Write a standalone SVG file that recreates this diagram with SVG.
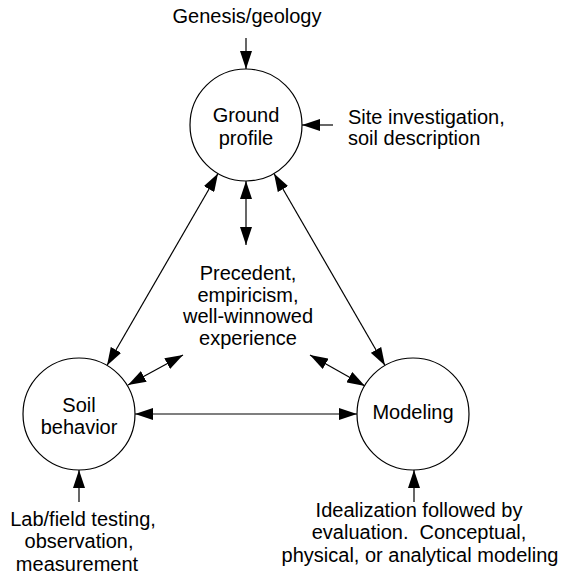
<svg xmlns="http://www.w3.org/2000/svg" width="563" height="581" viewBox="0 0 563 581">
  <style>
    text { font-family: "Liberation Sans", Arial, sans-serif; font-size: 20px; fill: #000; }
    .c { text-anchor: middle; }
    .pre { white-space: pre; }
    .node circle { fill: #fff; stroke: #000; stroke-width: 1.2; }
    #connectors line { stroke: #000; stroke-width: 1.2; fill: none; }
    .one { marker-end: url(#head); }
    .two { marker-start: url(#head); marker-end: url(#head); }
  </style>
  <defs>
    <marker id="head" markerUnits="userSpaceOnUse" markerWidth="18" markerHeight="12" refX="18" refY="6" orient="auto-start-reverse">
      <path d="M0,0 L18,6 L0,12 z" fill="#000"/>
    </marker>
  </defs>
  <rect width="563" height="581" fill="#fff"/>

  <!-- connectors -->
  <g id="connectors">
    <line class="one" x1="246" y1="38" x2="246" y2="69"/>
    <line class="one" x1="333" y1="125" x2="302" y2="125"/>
    <line class="two" x1="246" y1="181" x2="246" y2="245"/>
    <line class="two" x1="107" y1="365.5" x2="218" y2="173.5"/>
    <line class="two" x1="274" y1="173.5" x2="385" y2="365.5"/>
    <line class="two" x1="135" y1="414" x2="357" y2="414"/>
    <line class="two" x1="128" y1="385" x2="183" y2="355"/>
    <line class="two" x1="310" y1="355" x2="365" y2="386"/>
    <line class="one" x1="79" y1="502" x2="79" y2="470"/>
    <line class="one" x1="414" y1="502" x2="414" y2="470"/>
  </g>

  <!-- nodes -->
  <g id="ground-profile" class="node">
    <circle cx="246" cy="125" r="56"/>
    <text class="c" x="246" y="122">Ground</text>
    <text class="c" x="246" y="145">profile</text>
  </g>
  <g id="soil-behavior" class="node">
    <circle cx="79" cy="414" r="56"/>
    <text class="c" x="79" y="412">Soil</text>
    <text class="c" x="79" y="434">behavior</text>
  </g>
  <g id="modeling" class="node">
    <circle cx="413" cy="414" r="56"/>
    <text class="c" x="413" y="419">Modeling</text>
  </g>

  <!-- labels -->
  <g id="genesis">
    <text class="c" x="247" y="23">Genesis/geology</text>
  </g>
  <g id="site-investigation">
    <text x="348" y="124">Site investigation,</text>
    <text x="348" y="145">soil description</text>
  </g>
  <g id="precedent">
    <text class="c" x="248" y="280">Precedent,</text>
    <text class="c" x="248" y="302">empiricism,</text>
    <text class="c" x="248" y="323">well-winnowed</text>
    <text class="c" x="248" y="345">experience</text>
  </g>
  <g id="lab-testing">
    <text class="c" x="83" y="526">Lab/field testing,</text>
    <text class="c" x="79" y="548">observation,</text>
    <text class="c" x="77" y="571">measurement</text>
  </g>
  <g id="idealization">
    <text class="c" x="419" y="517">Idealization followed by</text>
    <text class="c pre" x="419" y="539">evaluation.  Conceptual,</text>
    <text class="c" x="420" y="562">physical, or analytical modeling</text>
  </g>
</svg>
